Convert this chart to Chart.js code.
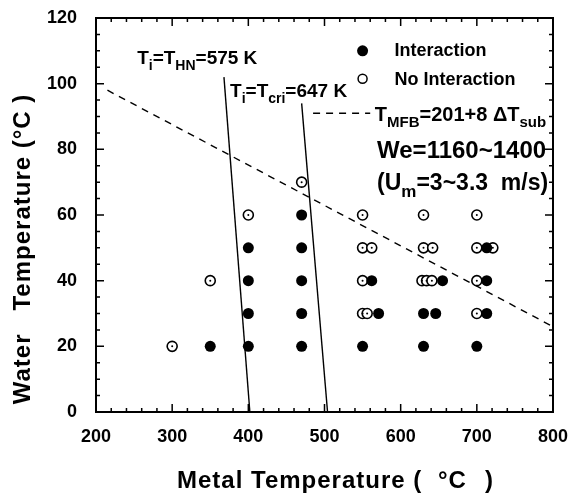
<!doctype html>
<html>
<head>
<meta charset="utf-8">
<title>Water temperature vs metal temperature</title>
<script src="https://cdn.jsdelivr.net/npm/chart.js@4.4.1/dist/chart.umd.min.js"></script>
<style>
  body { margin: 0; background: #fff; }
  #wrap { width: 568px; height: 499px; }
</style>
</head>
<body>
<div id="wrap"><canvas id="chart" width="568" height="499"></canvas></div>
<script>
// axis ticks
var xTicks = [200, 300, 400, 500, 600, 700, 800];
var yTicks = [0, 20, 40, 60, 80, 100, 120];
var xMinorStep = 20;
var yMinorStep = 5;

// metal temperature (C) vs water temperature (C)
var interaction = [
  {x: 350, y: 20},
  {x: 400, y: 20}, {x: 400, y: 30}, {x: 400, y: 40}, {x: 400, y: 50},
  {x: 470, y: 20}, {x: 470, y: 30}, {x: 470, y: 40}, {x: 470, y: 50}, {x: 470, y: 60},
  {x: 550, y: 20}, {x: 571, y: 30}, {x: 562, y: 40},
  {x: 630, y: 20}, {x: 630, y: 30}, {x: 646, y: 30}, {x: 655, y: 40},
  {x: 700, y: 20}, {x: 713, y: 30}, {x: 713, y: 40}, {x: 713, y: 50}
];
var noInteraction = [
  {x: 300, y: 20}, {x: 350, y: 40}, {x: 400, y: 60}, {x: 470, y: 70},
  {x: 550, y: 30}, {x: 556, y: 30}, {x: 550, y: 40}, {x: 550, y: 50}, {x: 562, y: 50}, {x: 550, y: 60},
  {x: 628, y: 40}, {x: 634, y: 40}, {x: 641, y: 40}, {x: 630, y: 50}, {x: 642, y: 50}, {x: 630, y: 60},
  {x: 700, y: 30}, {x: 700, y: 40}, {x: 700, y: 50}, {x: 721, y: 50}, {x: 700, y: 60}
];

// Ti=THN=575 K and Ti=Tcri=647 K lines
var hnLine = [{x: 368, y: 102}, {x: 402, y: 0}];
var criLine = [{x: 470, y: 94}, {x: 504, y: 0}];
// TMFB = 201 + 8 dTsub, and the short key dash next to its label
var mfbLine = [{x: 215, y: 98}, {x: 800, y: 26}];
var mfbKey = [{x: 485, y: 91}, {x: 560, y: 91}];

var FONT = '"Liberation Sans", Arial, sans-serif';

// text with subscripts: parts = [[text, isSub], ...]
function rich(ctx, x, y, parts, size, subSize, drop) {
  parts.forEach(function (p) {
    ctx.font = 'bold ' + (p[1] ? subSize : size) + 'px ' + FONT;
    ctx.fillText(p[0], x, p[1] ? y + drop : y);
    x += ctx.measureText(p[0]).width;
  });
}

var decor = {
  id: 'decor',
  afterDraw: function (chart) {
    var ctx = chart.ctx;
    var xs = chart.scales.x, ys = chart.scales.y;
    var a = chart.chartArea;
    ctx.save();
    ctx.strokeStyle = '#000';
    ctx.fillStyle = '#000';

    // frame
    ctx.lineWidth = 2;
    ctx.strokeRect(a.left, a.top, a.right - a.left, a.bottom - a.top);

    // inward ticks on all four sides
    ctx.lineWidth = 1.5;
    ctx.beginPath();
    for (var v = xs.min; v <= xs.max; v += xMinorStep) {
      var px = xs.getPixelForValue(v);
      var len = (v % 100 === 0) ? 8 : 4;
      ctx.moveTo(px, a.bottom); ctx.lineTo(px, a.bottom - len);
      ctx.moveTo(px, a.top); ctx.lineTo(px, a.top + len);
    }
    for (var w = ys.min; w <= ys.max; w += yMinorStep) {
      var py = ys.getPixelForValue(w);
      var l2 = (w % 20 === 0) ? 8 : 4;
      ctx.moveTo(a.left, py); ctx.lineTo(a.left + l2, py);
      ctx.moveTo(a.right, py); ctx.lineTo(a.right - l2, py);
    }
    ctx.stroke();

    // legend
    ctx.beginPath();
    ctx.arc(xs.getPixelForValue(550), ys.getPixelForValue(110), 5.5, 0, Math.PI * 2);
    ctx.fill();
    ctx.beginPath();
    ctx.lineWidth = 1.5;
    ctx.arc(xs.getPixelForValue(550), ys.getPixelForValue(101.5), 4.5, 0, Math.PI * 2);
    ctx.stroke();
    ctx.textAlign = 'left';
    ctx.textBaseline = 'alphabetic';
    ctx.font = 'bold 18px ' + FONT;
    ctx.fillText('Interaction', xs.getPixelForValue(592), ys.getPixelForValue(108.5));
    ctx.fillText('No Interaction', xs.getPixelForValue(592), ys.getPixelForValue(99.5));

    // annotations
    rich(ctx, xs.getPixelForValue(254), ys.getPixelForValue(106),
      [['T', 0], ['i', 1], ['=T', 0], ['HN', 1], ['=575 K', 0]], 19, 14, 6);
    rich(ctx, xs.getPixelForValue(376), ys.getPixelForValue(96),
      [['T', 0], ['i', 1], ['=T', 0], ['cri', 1], ['=647 K', 0]], 19, 14, 6);
    rich(ctx, xs.getPixelForValue(566), ys.getPixelForValue(88.5),
      [['T', 0], ['MFB', 1], ['=201+8 \u0394T', 0], ['sub', 1]], 20, 15, 6);
    ctx.font = 'bold 24px ' + FONT;
    ctx.fillText('We=1160~1400', xs.getPixelForValue(569), ys.getPixelForValue(77.5));
    rich(ctx, xs.getPixelForValue(569), ys.getPixelForValue(67.5),
      [['(U', 0], ['m', 1], ['=3~3.3  m/s)', 0]], 23, 17, 7);

    // axis titles
    ctx.font = 'bold 24px ' + FONT;
    ctx.letterSpacing = '1px';
    ctx.fillText('Metal Temperature (', 177, 488);
    ctx.fillText('\u00b0C', 438, 488);
    ctx.fillText(')', 485, 488);

    ctx.translate(30, 249);
    ctx.rotate(-Math.PI / 2);
    ctx.textAlign = 'center';
    ctx.fillText('Water   Temperature (\u00b0C )', 0, 0);
    ctx.restore();
  }
};

var tickFont = {family: FONT, size: 18, weight: 'bold'};

new Chart(document.getElementById('chart'), {
  type: 'scatter',
  data: {
    datasets: [
      {data: interaction, pointStyle: 'circle', pointRadius: 5.5, pointHoverRadius: 5.5,
       backgroundColor: '#000', borderColor: '#000', borderWidth: 0, order: 0},
      {data: noInteraction, pointStyle: 'circle', pointRadius: 1, pointHoverRadius: 1,
       backgroundColor: '#000', borderColor: '#000', borderWidth: 0, order: 1},
      {data: noInteraction, pointStyle: 'circle', pointRadius: 5, pointHoverRadius: 5,
       backgroundColor: '#fff', borderColor: '#000', borderWidth: 1.6, order: 2},
      {data: hnLine, showLine: true, pointRadius: 0, borderColor: '#000', borderWidth: 1.4, order: 3},
      {data: criLine, showLine: true, pointRadius: 0, borderColor: '#000', borderWidth: 1.4, order: 3},
      {data: mfbLine, showLine: true, pointRadius: 0, borderColor: '#000', borderWidth: 1.4,
       borderDash: [7, 6], order: 3},
      {data: mfbKey, showLine: true, pointRadius: 0, borderColor: '#000', borderWidth: 1.4,
       borderDash: [7, 6], order: 3}
    ]
  },
  options: {
    responsive: false,
    animation: false,
    devicePixelRatio: 1,
    layout: {padding: {left: 0, right: 15, top: 18, bottom: 0}},
    plugins: {legend: {display: false}, tooltip: {enabled: false}},
    scales: {
      x: {
        type: 'linear', min: 200, max: 800,
        afterBuildTicks: function (s) { s.ticks = xTicks.map(function (v) { return {value: v}; }); },
        afterFit: function (s) { s.height = 87; s.paddingLeft = 0; s.paddingRight = 0; },
        grid: {display: false}, border: {display: false},
        ticks: {color: '#000', font: tickFont, padding: 6, maxRotation: 0}
      },
      y: {
        type: 'linear', min: 0, max: 120,
        afterBuildTicks: function (s) { s.ticks = yTicks.map(function (v) { return {value: v}; }); },
        afterFit: function (s) { s.width = 96; s.paddingTop = 0; s.paddingBottom = 0; },
        grid: {display: false}, border: {display: false},
        ticks: {color: '#000', font: tickFont, padding: 11}
      }
    }
  },
  plugins: [decor]
});
</script>
</body>
</html>
